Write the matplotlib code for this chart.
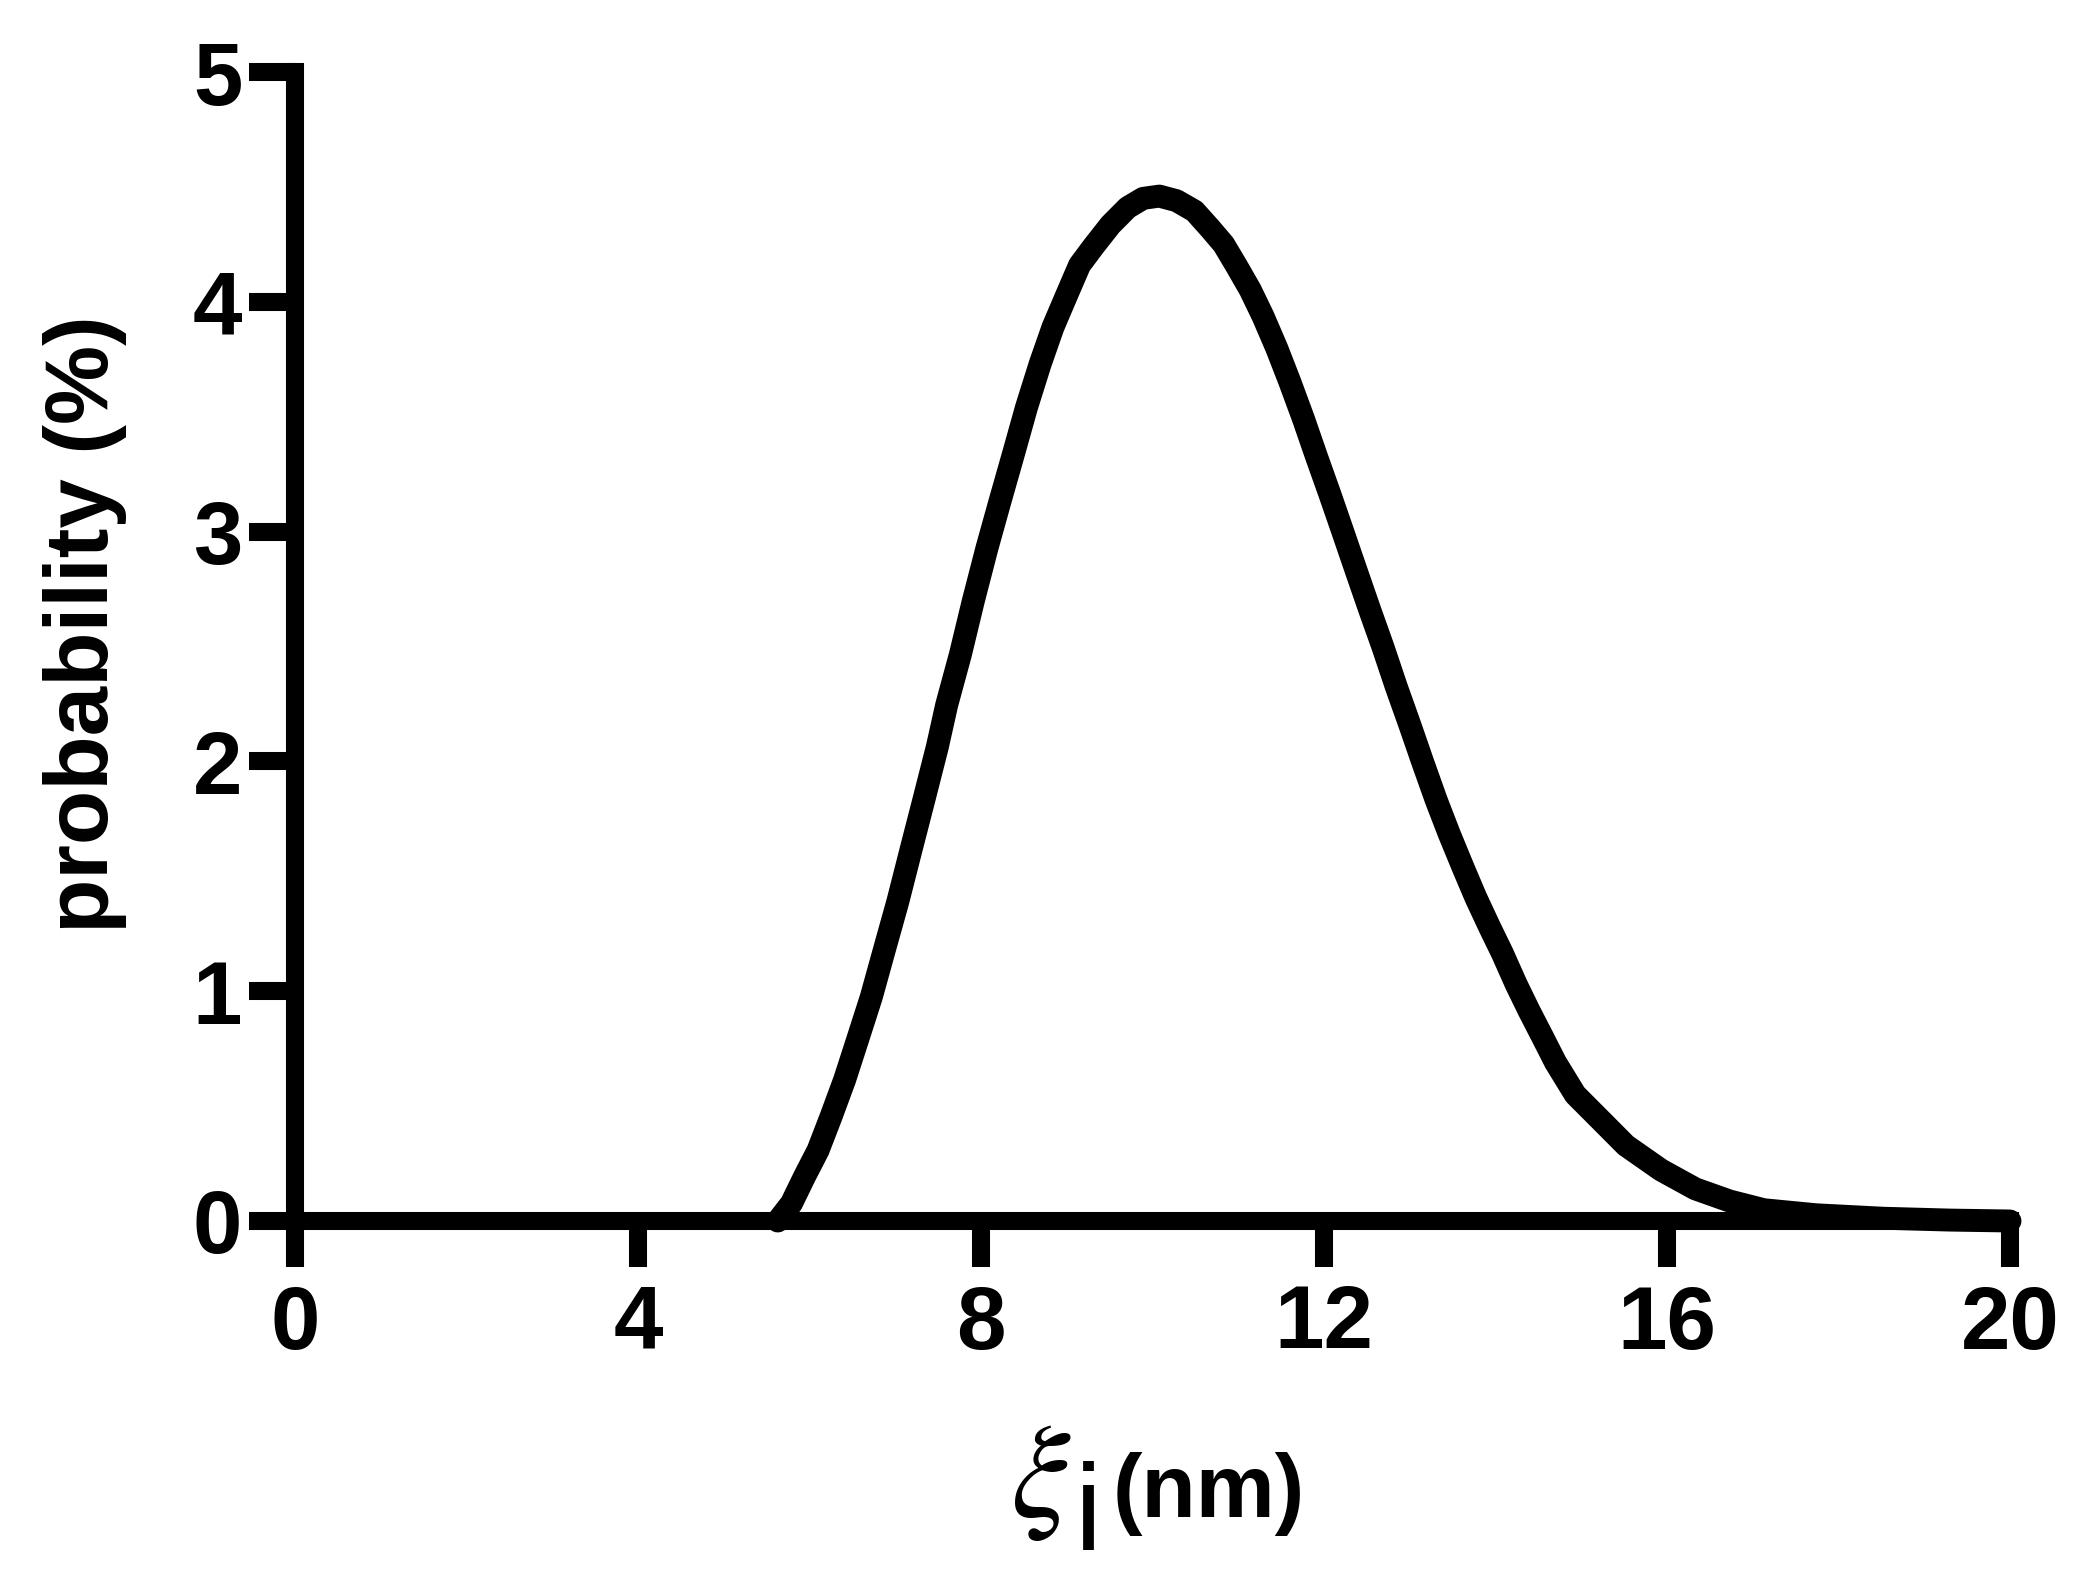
import matplotlib
matplotlib.use("Agg")
import matplotlib.pyplot as plt
import numpy as np

plt.rcParams["font.family"] = "Liberation Sans"
plt.rcParams["mathtext.fontset"] = "stix"

# curve: xi_i (nm) vs probability (%)
xi = [5.63, 5.79, 5.94, 6.10, 6.25, 6.41, 6.56, 6.72, 6.87, 7.03, 7.18, 7.34,
      7.49, 7.60, 7.76, 7.91, 8.07, 8.22, 8.38, 8.53, 8.69, 8.84, 9.00, 9.15,
      9.31, 9.51, 9.71, 9.89, 10.08, 10.28, 10.49, 10.67, 10.83, 10.98, 11.14,
      11.29, 11.45, 11.60, 11.76, 11.91, 12.07, 12.22, 12.38, 12.53, 12.69,
      12.84, 13.00, 13.15, 13.31, 13.46, 13.62, 13.77, 13.93, 14.08, 14.24,
      14.39, 14.55, 14.70, 14.93, 15.24, 15.52, 15.93, 16.33, 16.73, 17.13,
      17.74, 18.52, 19.3, 20.0]
prob = [0.0, 0.077, 0.192, 0.308, 0.453, 0.615, 0.788, 0.974, 1.176, 1.390,
        1.610, 1.842, 2.062, 2.246, 2.466, 2.698, 2.929, 3.130, 3.340, 3.540,
        3.730, 3.890, 4.030, 4.160, 4.240, 4.335, 4.410, 4.450, 4.460, 4.440,
        4.395, 4.320, 4.250, 4.156, 4.052, 3.936, 3.797, 3.653, 3.491, 3.329,
        3.161, 2.999, 2.825, 2.663, 2.495, 2.328, 2.160, 1.998, 1.830, 1.685,
        1.540, 1.408, 1.280, 1.165, 1.031, 0.916, 0.800, 0.690, 0.550, 0.434,
        0.329, 0.222, 0.140, 0.087, 0.049, 0.027, 0.012, 0.004, 0.0]

xticks = [0, 4, 8, 12, 16, 20]
yticks = [0, 1, 2, 3, 4, 5]

fig = plt.figure(figsize=(20.85, 15.89), dpi=100)
ax = fig.add_axes([295/2085, 1 - 1221/1589, (2010-295)/2085, (1221-72)/1589])

ax.plot(xi, prob, color="black", lw=16.5, solid_capstyle="round",
        solid_joinstyle="round", clip_on=False, zorder=3)

ax.set_xlim(0, 20)
ax.set_ylim(0, 5)
ax.set_xticks(xticks)
ax.set_yticks(yticks)

for s in ["top", "right"]:
    ax.spines[s].set_visible(False)
for s in ["left", "bottom"]:
    ax.spines[s].set_linewidth(13)
    ax.spines[s].set_capstyle("projecting")

ax.tick_params(axis="both", direction="out", width=13, length=33, labelsize=64)
ax.tick_params(axis="x", pad=12)
ax.tick_params(axis="y", pad=5)
for lab in ax.get_xticklabels() + ax.get_yticklabels():
    lab.set_fontweight("bold")

ax.set_ylabel("probability (%)", fontsize=64, fontweight="bold")
ax.yaxis.set_label_coords(-0.098, 0.519)

# x label built from pieces: big thin xi, lowered i, bold (nm)
ax.text(0.417, -0.2576, r"$\xi$", transform=ax.transAxes, fontsize=96,
        ha="left", va="baseline")
ax.text(0.455, -0.2863, "i", transform=ax.transAxes, fontsize=88,
        ha="left", va="baseline")
ax.text(0.477, -0.2576, "(nm)", transform=ax.transAxes, fontsize=64,
        fontweight="bold", ha="left", va="baseline")

plt.savefig("out.png", dpi=100)
